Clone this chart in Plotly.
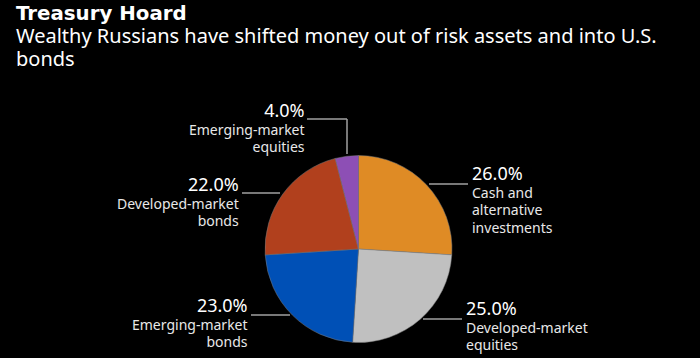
import plotly.graph_objects as go

W, H = 700, 358

categories = ["Cash and alternative investments", "Developed-market equities",
              "Emerging-market bonds", "Developed-market bonds", "Emerging-market equities"]
display_labels = [["Cash and", "alternative", "investments"], ["Developed-market", "equities"],
                  ["Emerging-market", "bonds"], ["Developed-market", "bonds"],
                  ["Emerging-market", "equities"]]
values = [26.0, 25.0, 23.0, 22.0, 4.0]
colors = ["#df8b25", "#c0c0c0", "#0050b6", "#b1401d", "#8d4fb5"]

title_text = "Treasury Hoard"
subtitle_lines = ["Wealthy Russians have shifted money out of risk assets and into U.S.", "bonds"]

FONT = "Noto Sans"

# pie geometry (pixels)
cx, cy, r = 358.5, 249, 93.5

fig = go.Figure(go.Pie(
    labels=categories, values=values, sort=False, direction="clockwise", rotation=0,
    marker=dict(colors=colors, line=dict(color="#7a7a7a", width=0.5)),
    textinfo="none", hoverinfo="label+percent", showlegend=False,
    domain=dict(x=[(cx - r) / W, (cx + r) / W], y=[(H - cy - r) / H, (H - cy + r) / H]),
))

def px(x):
    return x / W

def py(y):
    return 1 - y / H

# label layout: (text x, anchor, block top y, leader segments)
label_layout = [
    (471, "left", 160.0, [((429, 184), (468, 184))]),
    (465, "left", 294.8, [((423, 319), (462, 319))]),
    (249, "right", 291.5, [((251, 315), (290, 315))]),
    (239.5, "right", 170.8, [((242, 193), (280, 193))]),
    (306, "right", 96.8, [((307, 119), (347, 119)), ((347, 119), (347, 154))]),
]

annotations = []
shapes = []
for v, lab, (tx, anchor, top, segs) in zip(values, display_labels, label_layout):
    parts = [f"<span style='font-size:18px;color:#ffffff'>{v:.1f}%</span>"]
    parts += [f"<span style='font-size:14px'>{t}</span>" for t in lab]
    annotations.append(dict(
        x=px(tx), y=py(top), xref="paper", yref="paper", xanchor=anchor, yanchor="top",
        text="<br>".join(parts), showarrow=False, align=anchor, borderpad=0,
        font=dict(family=FONT, size=13.5, color="#e8e8e8")))
    for (x0, y0), (x1, y1) in segs:
        shapes.append(dict(type="line", xref="paper", yref="paper",
                           x0=px(x0), y0=py(y0), x1=px(x1), y1=py(y1),
                           line=dict(color="#a0a0a0", width=1.5)))

head = [f"<span style='font-family:DejaVu Sans;font-size:19.8px'><b>{title_text}</b></span>"]
head += [f"<span style='font-size:20px'>{t}</span>" for t in subtitle_lines]
annotations.append(dict(
    x=px(15), y=py(1.0), xref="paper", yref="paper", xanchor="left", yanchor="top",
    text="<br>".join(head), showarrow=False, align="left", borderpad=0,
    font=dict(family=FONT, size=17.7, color="#ffffff")))

fig.update_layout(
    width=W, height=H, margin=dict(l=0, r=0, t=0, b=0),
    paper_bgcolor="#000000", plot_bgcolor="#000000",
    annotations=annotations, shapes=shapes,
)

fig.write_html("out.html", config={"displayModeBar": False},
               post_script="document.body.style.margin='0px';document.body.style.background='#000';")
